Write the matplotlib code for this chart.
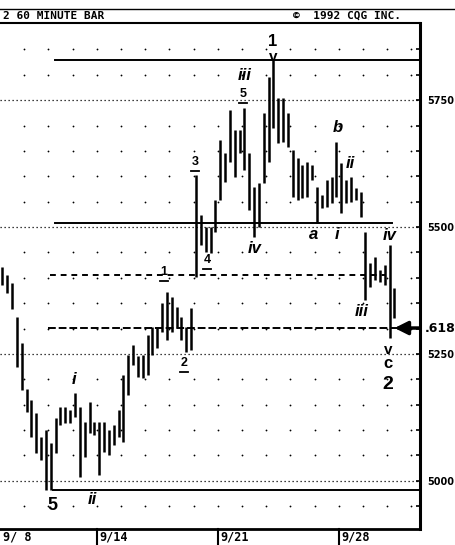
import numpy as np
import matplotlib
matplotlib.use('Agg')
import matplotlib.pyplot as plt
from matplotlib.lines import Line2D
from matplotlib.transforms import blended_transform_factory, offset_copy

# 60 minute bars, 5 bars per trading day
highs = [5421, 5406, 5390, 5323, 5272, 5181, 5159, 5134, 5087, 5100,
         5075, 5124, 5146, 5146, 5140, 5173, 5146, 5116, 5156, 5116,
         5116, 5116, 5100, 5110, 5140, 5209, 5248, 5268, 5246, 5248,
         5287, 5303, 5303, 5350, 5372, 5362, 5343, 5323, 5303, 5341,
         5602, 5524, 5500, 5500, 5553, 5671, 5646, 5730, 5691, 5691,
         5734, 5646, 5579, 5587, 5724, 5795, 5829, 5754, 5754, 5724,
         5652, 5636, 5622, 5628, 5622, 5579, 5563, 5592, 5598, 5667,
         5626, 5592, 5598, 5577, 5569, 5490, 5429, 5441, 5415, 5425,
         5465, 5380]
lows = [5386, 5370, 5339, 5224, 5179, 5136, 5087, 5055, 5041, 4982,
        4982, 5055, 5110, 5114, 5114, 5126, 5008, 5047, 5094, 5091,
        5012, 5057, 5051, 5071, 5087, 5077, 5169, 5228, 5205, 5203,
        5209, 5248, 5262, 5293, 5278, 5293, 5303, 5278, 5254, 5258,
        5402, 5465, 5451, 5449, 5490, 5553, 5589, 5628, 5598, 5646,
        5612, 5533, 5480, 5500, 5587, 5628, 5695, 5665, 5667, 5657,
        5559, 5553, 5557, 5559, 5592, 5508, 5537, 5539, 5547, 5559,
        5528, 5547, 5549, 5553, 5520, 5356, 5382, 5396, 5392, 5386,
        5282, 5321]
bars_per_day = 5

# week starts (trading day number) and their labels
date_days = [0, 4, 9, 14]
date_labels = ['9/ 8', '9/14', '9/21', '9/28']

price_labels = [5000, 5250, 5500, 5750]

# horizontal lines drawn on the chart: level, start day, end day, style
hlines = [
    (5829, 2.27, 17.36, '-'),
    (5507, 2.27, 16.2, '-'),
    (5405, 2.07, 15.9, (0, (3, 2.5))),
    (5301, 1.98, 17.36, (0, (4, 1.5))),
    (4982, 2.19, 17.36, '-'),
]
retrace_level = 5301

# wave labels (big upright ones and small italic ones)
big_text = ['v', 'c', '2', '5']
big_x = [16.03, 16.03, 16.03, 2.15]
big_y = [5258, 5232, 5190, 4951]
big_size = [11, 12, 14, 13]

wave_text = ['iii', 'iv', 'a', 'i', 'b', 'ii', 'iv', 'iii', 'i', 'ii']
wave_x = [10.12, 10.54, 12.97, 13.93, 13.97, 14.46, 16.12, 14.96, 3.06, 3.8]
wave_y = [5799, 5457, 5486, 5486, 5697, 5626, 5484, 5333, 5199, 4963]

# small underlined sub-wave counts
sub_text = ['1', '2', '3', '4', '5']
sub_x = [6.78, 7.6, 8.06, 8.55, 10.04]
sub_y = [5411, 5232, 5628, 5435, 5762]

fig = plt.figure(figsize=(4.56, 5.45), dpi=100)
ax = fig.add_axes([0, 16 / 545, 420 / 456, 506 / 545])

t = (np.arange(len(highs)) + 0.5) / bars_per_day
ax.vlines(t, lows, highs, color='k', lw=1.8)

# dotted price lines and grid dots
for p in price_labels:
    ax.axhline(p, ls=(0, (1, 2.2)), lw=0.9, color='k')
gx, gy = np.meshgrid(np.arange(1, 18), np.arange(4950, 5900, 50))
keep = (gy % 250) != 0
ax.plot(gx[keep], gy[keep], 'o', color='k', ms=1.3, mew=0)

for lvl, x0, x1, ls in hlines:
    ax.plot([x0, x1], [lvl, lvl], color='k', lw=1.4, ls=ls, clip_on=False)

# wave 1 top label: "1" over "v"
ax.text(11.28, 5857, '1', fontsize=12, weight='bold', family='Liberation Sans',
        ha='center', va='baseline')
ax.text(11.28, 5849, 'v', fontsize=11, weight='bold', family='Liberation Sans',
        ha='center', va='top')
for s, x, y, fs in zip(big_text, big_x, big_y, big_size):
    ax.text(x, y, s, fontsize=fs, weight='bold', family='Liberation Sans',
            ha='center', va='center')
for s, x, y in zip(wave_text, wave_x, wave_y):
    ax.text(x, y, s, fontsize=12, weight='bold', style='italic',
            family='Liberation Sans', ha='center', va='center')
under = offset_copy(ax.transData, fig=fig, y=-6.5, units='points')
for s, x, y in zip(sub_text, sub_x, sub_y):
    ax.text(x, y, s, fontsize=9, weight='bold', family='Liberation Sans',
            ha='center', va='center')
    ax.plot([x - 0.15, x + 0.15], [y, y], color='k', lw=1.3, transform=under)

ax.set_xlim(0, 420 / 24.2)
ax.set_ylim(4905, 5902)
ax.set_xticks([])
ax.yaxis.tick_right()
ax.set_yticks(price_labels)
ax.set_yticks(np.arange(4950, 5900, 50), minor=True)
ax.tick_params(axis='y', which='both', direction='in', length=3, width=1.2,
               labelsize=7, pad=5)
for lab in ax.get_yticklabels():
    lab.set_fontweight('bold')
ax.spines['left'].set_visible(False)
ax.spines['top'].set_linewidth(1.5)
ax.spines['right'].set_linewidth(2.2)
ax.spines['bottom'].set_linewidth(2)

# .618 retracement marker
tr = blended_transform_factory(ax.transAxes, ax.transData)
ax.text(1.012, retrace_level, '.618', transform=tr, fontsize=9, weight='bold',
        va='center', ha='left', clip_on=False)
ax.annotate('', xy=(16.3, retrace_level), xytext=(17.36, retrace_level),
            arrowprops=dict(arrowstyle='-|>,head_length=0.5,head_width=0.25',
                            color='k', lw=2.5, shrinkA=0, shrinkB=0,
                            mutation_scale=16),
            annotation_clip=False)

# date strip under the chart
xt = ax.get_xaxis_transform()
for d, lab in zip(date_days, date_labels):
    ax.text(d + 0.12, -0.016, lab, transform=xt, fontsize=8.5, weight='bold',
            family='DejaVu Sans Mono', va='center', ha='left')
    if d > 0:
        ax.plot([d, d], [0, -0.032], transform=xt, color='k', lw=1.5,
                clip_on=False)

# header
fig.add_artist(Line2D([0, 1], [1 - 9 / 545] * 2, color='k', lw=1))
fig.text(3 / 456, 1 - 16 / 545, '2 60 MINUTE BAR', family='DejaVu Sans Mono',
         weight='bold', fontsize=8, va='center')
fig.text(293 / 456, 1 - 16 / 545, '\u00a9  1992 CQG INC.', family='DejaVu Sans Mono',
         weight='bold', fontsize=8, va='center')

fig.savefig('out.png', dpi=100)
